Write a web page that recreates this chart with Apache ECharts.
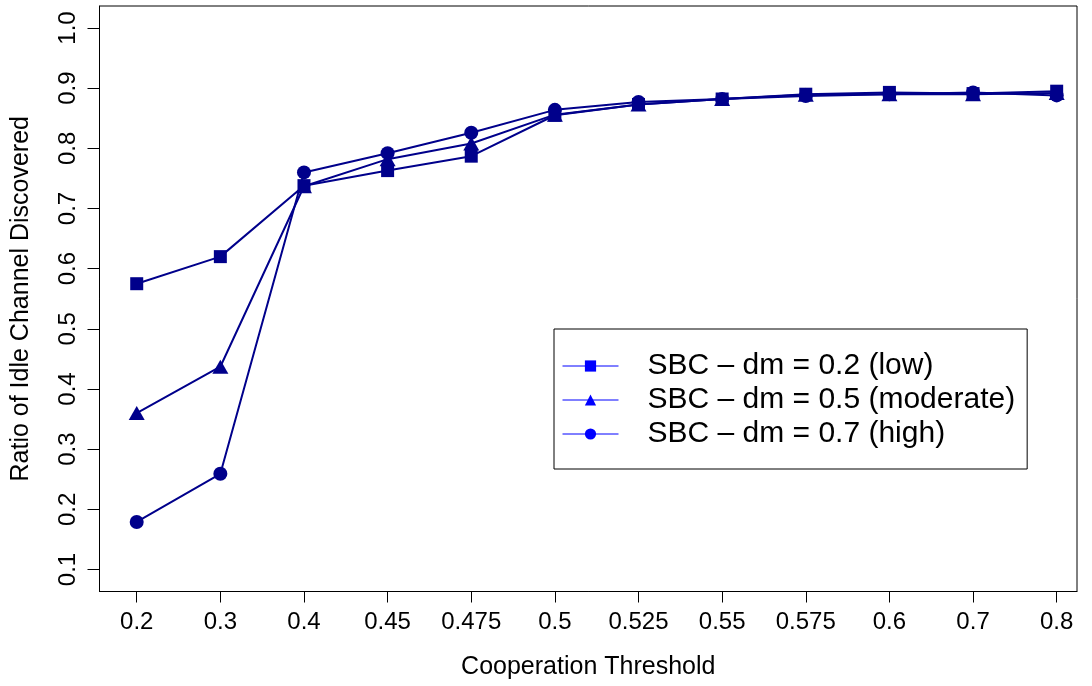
<!DOCTYPE html>
<html>
<head>
<meta charset="utf-8">
<script src="https://cdn.jsdelivr.net/npm/echarts@6/dist/echarts.min.js"></script>
<style>html,body{margin:0;padding:0;background:#fff}#c{width:1092px;height:686px}</style>
</head>
<body>
<div id="c"></div>
<script>
const categories = ['0.2','0.3','0.4','0.45','0.475','0.5','0.525','0.55','0.575','0.6','0.7','0.8'];
const yTicks = [0.1,0.2,0.3,0.4,0.5,0.6,0.7,0.8,0.9,1.0];
const lowValues = [0.575,0.620,0.738,0.763,0.787,0.855,0.873,0.882,0.890,0.893,0.891,0.895];
const moderateValues = [0.360,0.437,0.737,0.782,0.808,0.856,0.873,0.882,0.889,0.890,0.890,0.892];
const highValues = [0.179,0.259,0.760,0.792,0.826,0.864,0.877,0.882,0.887,0.890,0.893,0.888];
const seriesNames = ['SBC \u2013 dm = 0.2 (low)','SBC \u2013 dm = 0.5 (moderate)','SBC \u2013 dm = 0.7 (high)'];

const FONT = '"Liberation Sans", Arial, Helvetica, sans-serif';
const lineColor = '#00008B';
const legendColor = '#0000FF';
const xIdx = categories.map((c,i)=>i+1);
const pairs = vals => vals.map((v,i)=>[i+1, v]);

const chart = echarts.init(document.getElementById('c'), null, {renderer:'canvas'});
const mk = (name, vals, symbol, size) => ({
  name, type:'line', data: pairs(vals), symbol, symbolSize: size,
  lineStyle:{color:lineColor, width:2}, itemStyle:{color:lineColor},
  animation:false, z: 3
});
chart.setOption({
  animation:false,
  backgroundColor:'#fff',
  grid:{left:99.5, right:15, top:6, bottom:94.5, show:true, borderColor:'#000', borderWidth:1, containLabel:false},
  xAxis:{
    type:'value', min:0.555, max:12.243,
    name:'Cooperation Threshold', nameLocation:'middle', nameGap:63,
    nameTextStyle:{fontFamily:FONT, fontSize:25, color:'#000'},
    axisLine:{show:true, lineStyle:{color:'#000', width:1}},
    axisTick:{show:true, length:11, customValues:xIdx, lineStyle:{color:'#000'}},
    axisLabel:{customValues:xIdx, formatter:v=>categories[Math.round(v)-1], fontFamily:FONT, fontSize:24, color:'#000', margin:19},
    splitLine:{show:false}
  },
  yAxis:{
    type:'value', min:0.0634, max:1.0366,
    name:'Ratio of Idle Channel Discovered', nameLocation:'middle', nameGap:66,
    nameTextStyle:{fontFamily:FONT, fontSize:25, color:'#000'},
    axisLine:{show:true, lineStyle:{color:'#000', width:1}},
    axisTick:{show:true, length:12, customValues:yTicks, lineStyle:{color:'#000'}},
    axisLabel:{customValues:yTicks, rotate:90, formatter:v=>v.toFixed(1), fontFamily:FONT, fontSize:24, color:'#000', margin:19},
    splitLine:{show:false}
  },
  legend:{
    show:true, orient:'vertical', left:554, top:329,
    padding:[22,12,20,8], itemGap:4, itemWidth:56, itemHeight:14,
    borderColor:'#000', borderWidth:1, backgroundColor:'#fff',
    textStyle:{fontFamily:FONT, fontSize:30, color:'#000', padding:[0,0,0,24]},
    data: seriesNames.map(n=>({name:n, itemStyle:{color:legendColor}, lineStyle:{color:legendColor, width:1}}))
  },
  series:[
    mk(seriesNames[0], lowValues, 'rect', 13),
    mk(seriesNames[1], moderateValues, 'triangle', [16,14]),
    mk(seriesNames[2], highValues, 'circle', 14)
  ]
});
</script>
</body>
</html>
